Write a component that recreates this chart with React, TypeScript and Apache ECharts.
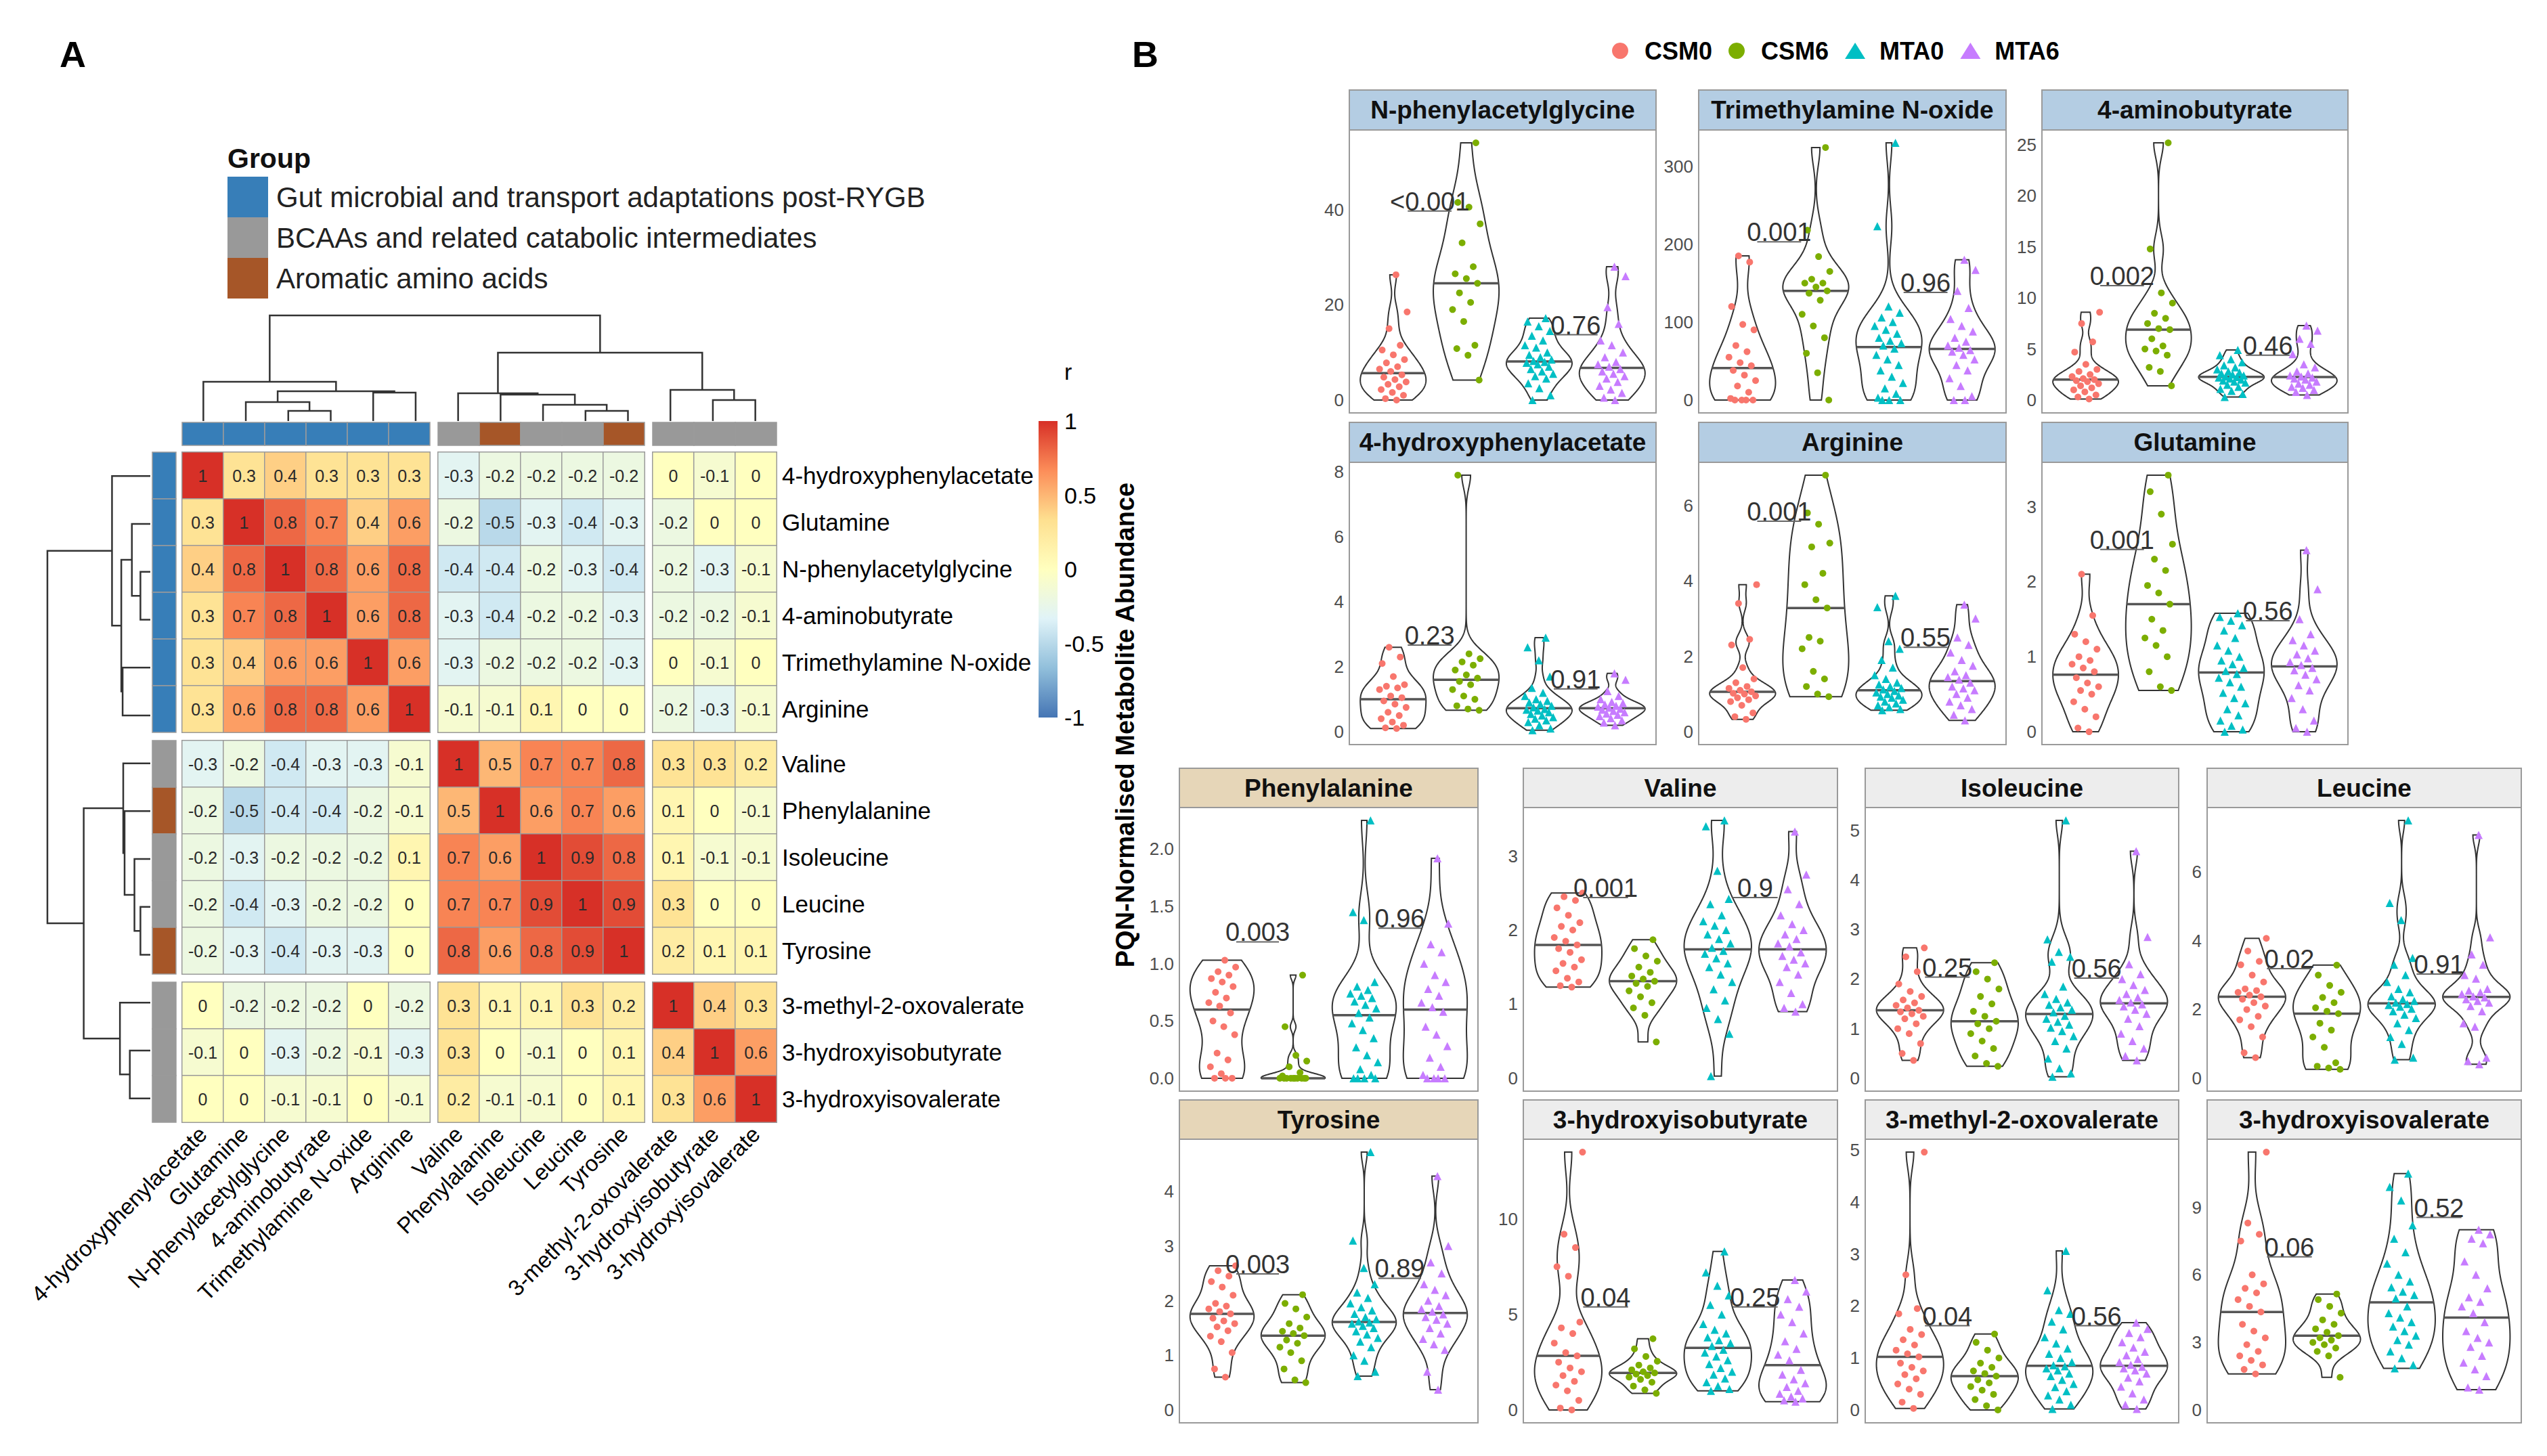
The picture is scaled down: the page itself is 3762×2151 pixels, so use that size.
import React, { useEffect, useRef } from "react";
import * as echarts from "echarts";

const FONT = "'Liberation Sans', Arial, Helvetica, sans-serif";

// ================= Panel A data =================
const metabolites = [
  "4-hydroxyphenylacetate", "Glutamine", "N-phenylacetylglycine", "4-aminobutyrate",
  "Trimethylamine N-oxide", "Arginine", "Valine", "Phenylalanine", "Isoleucine",
  "Leucine", "Tyrosine", "3-methyl-2-oxovalerate", "3-hydroxyisobutyrate", "3-hydroxyisovalerate",
];
const metaboliteGroup = [0, 0, 0, 0, 0, 0, 1, 2, 1, 1, 2, 1, 1, 1];
const groupNames = [
  "Gut microbial and transport adaptations post-RYGB",
  "BCAAs and related catabolic intermediates",
  "Aromatic amino acids",
];
const groupColors = ["#377EB8", "#999999", "#A65628"];
const blockSizes = [6, 5, 3];
const corrMatrix = [
  [1, 0.3, 0.4, 0.3, 0.3, 0.3, -0.3, -0.2, -0.2, -0.2, -0.2, 0, -0.1, 0],
  [0.3, 1, 0.8, 0.7, 0.4, 0.6, -0.2, -0.5, -0.3, -0.4, -0.3, -0.2, 0, 0],
  [0.4, 0.8, 1, 0.8, 0.6, 0.8, -0.4, -0.4, -0.2, -0.3, -0.4, -0.2, -0.3, -0.1],
  [0.3, 0.7, 0.8, 1, 0.6, 0.8, -0.3, -0.4, -0.2, -0.2, -0.3, -0.2, -0.2, -0.1],
  [0.3, 0.4, 0.6, 0.6, 1, 0.6, -0.3, -0.2, -0.2, -0.2, -0.3, 0, -0.1, 0],
  [0.3, 0.6, 0.8, 0.8, 0.6, 1, -0.1, -0.1, 0.1, 0, 0, -0.2, -0.3, -0.1],
  [-0.3, -0.2, -0.4, -0.3, -0.3, -0.1, 1, 0.5, 0.7, 0.7, 0.8, 0.3, 0.3, 0.2],
  [-0.2, -0.5, -0.4, -0.4, -0.2, -0.1, 0.5, 1, 0.6, 0.7, 0.6, 0.1, 0, -0.1],
  [-0.2, -0.3, -0.2, -0.2, -0.2, 0.1, 0.7, 0.6, 1, 0.9, 0.8, 0.1, -0.1, -0.1],
  [-0.2, -0.4, -0.3, -0.2, -0.2, 0, 0.7, 0.7, 0.9, 1, 0.9, 0.3, 0, 0],
  [-0.2, -0.3, -0.4, -0.3, -0.3, 0, 0.8, 0.6, 0.8, 0.9, 1, 0.2, 0.1, 0.1],
  [0, -0.2, -0.2, -0.2, 0, -0.2, 0.3, 0.1, 0.1, 0.3, 0.2, 1, 0.4, 0.3],
  [-0.1, 0, -0.3, -0.2, -0.1, -0.3, 0.3, 0, -0.1, 0, 0.1, 0.4, 1, 0.6],
  [0, 0, -0.1, -0.1, 0, -0.1, 0.2, -0.1, -0.1, 0, 0.1, 0.3, 0.6, 1],
];
// hclust-style merges: negative = leaf (-(index+1)), positive = earlier merge (1-based); third = height
const dendroMerges = [
  [-3, -4, 0.96], [-10, -11, 0.96], [-2, 1, 1.79], [-9, 2, 1.54], [-13, -14, 1.99],
  [-8, 4, 2.5], [-7, 6, 2.63], [-5, -6, 2.69], [3, 8, 2.82], [-12, 5, 2.95],
  [-1, 9, 3.72], [7, 10, 6.47], [11, 12, 10],
];
const colorbarTicks = [-1, -0.5, 0, 0.5, 1];
const heatPalette = ["#4575B4", "#91BFDB", "#E0F3F8", "#FFFFBF", "#FEE090", "#FC8D59", "#D73027"];

// ================= Panel B data =================
const groupsB = ["CSM0", "CSM6", "MTA0", "MTA6"];

const npagValues = [
  [0, 0.3, 1, 1.6, 2.2, 2.8, 3.3, 3.8, 4.3, 4.8, 5.3, 6, 6.5, 7, 7.8, 8.5, 9.5, 10.5, 11.5, 15, 18.5, 26.3],
  [4.2, 9.4, 10.8, 11.5, 16.5, 19, 20.5, 22.5, 24.5, 25.5, 26.5, 28, 33, 37, 40.5, 41.5, 54],
  [0, 1, 2.5, 3.5, 4.5, 5, 5.5, 6, 6.5, 7, 7.5, 7.8, 8, 8.2, 8.5, 9, 9.5, 10, 11, 11.5, 12.5, 13.5, 14.5, 15.5, 16.5, 17.2],
  [0, 0.5, 1.5, 2.2, 3, 3.8, 4.5, 5, 5.5, 6, 6.5, 7, 7.5, 8, 9, 10, 11.5, 12.5, 16, 19.5, 26, 28],
];
const npagTicks = [0, 20, 40];
const npagP = [["<0.001", 39.7], ["0.76", 13.7]];

const tmaoValues = [
  [0, 0, 0, 0, 2, 10, 18, 25, 32, 38, 44, 48, 55, 62, 70, 90, 97, 120, 177, 185],
  [0, 35, 60, 80, 95, 110, 128, 137, 140, 145, 150, 150, 155, 165, 184, 218, 324],
  [0, 0, 0, 3, 8, 15, 22, 30, 38, 45, 52, 58, 66, 70, 73, 76, 80, 85, 90, 95, 100, 106, 112, 120, 223, 330],
  [0, 0, 5, 18, 28, 38, 45, 52, 58, 62, 64, 67, 70, 75, 80, 88, 95, 104, 118, 140, 167, 180],
];
const tmaoTicks = [0, 100, 200, 300];
const tmaoP = [["0.001", 203], ["0.96", 138]];

const gabaValues = [
  [0.1, 0.3, 0.5, 0.8, 1.0, 1.2, 1.4, 1.6, 1.8, 1.9, 2.0, 2.1, 2.3, 2.5, 2.8, 3.0, 3.5, 4.7, 5.7, 7.5, 8.6],
  [1.4, 2.8, 3.2, 4.4, 4.8, 5.0, 5.3, 6.0, 6.9, 7.0, 7.5, 8.0, 8.5, 9.5, 10.5, 14.8, 25.2],
  [0.3, 0.6, 0.9, 1.1, 1.3, 1.5, 1.7, 1.8, 1.9, 2.0, 2.1, 2.2, 2.25, 2.3, 2.4, 2.5, 2.6, 2.7, 2.8, 3.0, 3.2, 3.4, 3.7, 4.0, 4.4, 4.9],
  [0.5, 0.8, 1.0, 1.2, 1.3, 1.5, 1.6, 1.8, 2.0, 2.1, 2.2, 2.3, 2.4, 2.6, 2.8, 3.2, 3.5, 4.5, 5.5, 6.0, 6.8, 7.3],
];
const gabaTicks = [0, 5, 10, 15, 20, 25];
const gabaP = [["0.002", 11.2], ["0.46", 4.4]];

const hpaValues = [
  [0.1, 0.12, 0.2, 0.3, 0.4, 0.5, 0.6, 0.75, 0.85, 0.95, 1.05, 1.1, 1.3, 1.35, 1.4, 1.45, 1.7, 2.1, 2.3, 2.6],
  [0.66, 0.7, 0.8, 1.0, 1.1, 1.3, 1.45, 1.55, 1.65, 1.75, 1.9, 2.05, 2.15, 2.25, 2.4, 7.9],
  [0.05, 0.1, 0.2, 0.3, 0.35, 0.4, 0.45, 0.5, 0.55, 0.6, 0.65, 0.68, 0.7, 0.75, 0.8, 0.85, 0.9, 0.95, 1.0, 1.1, 1.2, 1.35, 1.7, 2.2, 2.6, 2.9],
  [0.2, 0.28, 0.35, 0.42, 0.48, 0.52, 0.56, 0.6, 0.64, 0.68, 0.71, 0.74, 0.77, 0.8, 0.84, 0.88, 0.92, 1.0, 1.1, 1.25, 1.6, 1.8],
];
const hpaTicks = [0, 2, 4, 6, 8];
const hpaP = [["0.23", 2.67], ["0.91", 1.32]];

const argValues = [
  [0.33, 0.4, 0.5, 0.7, 0.8, 0.85, 0.9, 0.95, 1.0, 1.02, 1.06, 1.1, 1.15, 1.2, 1.3, 1.4, 1.7, 2.3, 2.45, 3.4, 3.9],
  [0.93, 1.0, 1.2, 1.4, 1.6, 2.2, 2.4, 2.5, 3.28, 3.5, 3.9, 4.2, 4.9, 5.0, 5.5, 5.8, 6.8],
  [0.57, 0.6, 0.65, 0.7, 0.75, 0.8, 0.85, 0.9, 0.93, 0.96, 1.0, 1.04, 1.08, 1.12, 1.16, 1.2, 1.25, 1.3, 1.4, 1.5, 1.7, 1.9, 2.2, 2.4, 3.3, 3.6],
  [0.3, 0.45, 0.6, 0.7, 0.8, 0.9, 1.0, 1.1, 1.15, 1.2, 1.3, 1.38, 1.45, 1.5, 1.6, 1.75, 1.9, 2.1, 2.3, 2.5, 3.0, 3.37],
];
const argTicks = [0, 2, 4, 6];
const argP = [["0.001", 5.58], ["0.55", 2.24]];

const glnValues = [
  [0.0, 0.05, 0.2, 0.3, 0.4, 0.5, 0.55, 0.6, 0.65, 0.72, 0.8, 0.85, 0.9, 0.95, 1.0, 1.1, 1.2, 1.3, 1.55, 2.1],
  [0.55, 0.6, 0.8, 1.0, 1.15, 1.25, 1.35, 1.5, 1.7, 1.85, 1.95, 2.15, 2.3, 2.5, 2.9, 3.2, 3.42],
  [0.0, 0.03, 0.08, 0.15, 0.22, 0.3, 0.38, 0.45, 0.52, 0.6, 0.66, 0.72, 0.77, 0.81, 0.85, 0.9, 0.95, 1.0, 1.08, 1.15, 1.25, 1.35, 1.42, 1.48, 1.53, 1.58],
  [0.0, 0.05, 0.15, 0.3, 0.45, 0.55, 0.62, 0.7, 0.76, 0.82, 0.85, 0.89, 0.93, 0.98, 1.03, 1.08, 1.15, 1.22, 1.3, 1.5, 1.9, 2.42],
];
const glnTicks = [0, 1, 2, 3];
const glnP = [["0.001", 2.43], ["0.56", 1.48]];

const pheValues = [
  [0, 0, 0, 0.04, 0.1, 0.16, 0.22, 0.38, 0.45, 0.5, 0.57, 0.63, 0.66, 0.7, 0.75, 0.8, 0.84, 0.87, 0.9, 0.93, 0.97, 1.03],
  [0, 0, 0, 0, 0, 0, 0, 0, 0, 0, 0.02, 0.05, 0.1, 0.15, 0.2, 0.45, 0.9],
  [0, 0, 0, 0, 0.03, 0.08, 0.14, 0.2, 0.27, 0.35, 0.42, 0.48, 0.53, 0.57, 0.61, 0.64, 0.67, 0.7, 0.72, 0.74, 0.77, 0.8, 0.84, 1.38, 1.45, 2.25],
  [0, 0, 0, 0, 0.03, 0.1, 0.18, 0.28, 0.38, 0.45, 0.58, 0.62, 0.66, 0.72, 0.78, 0.84, 0.9, 1.0, 1.1, 1.17, 1.35, 1.92],
];
const pheTicks = [0, 0.5, 1, 1.5, 2];
const pheP = [["0.003", 1.19], ["0.96", 1.31]];

const valValues = [
  [1.23, 1.25, 1.3, 1.35, 1.45, 1.5, 1.55, 1.6, 1.7, 1.75, 1.8, 1.85, 1.9, 2.0, 2.05, 2.1, 2.2, 2.3, 2.4, 2.45, 2.5],
  [0.49, 0.85, 0.95, 1.02, 1.1, 1.18, 1.24, 1.28, 1.31, 1.34, 1.38, 1.43, 1.5, 1.58, 1.65, 1.75, 1.87],
  [0.03, 0.6, 0.8, 0.95, 1.05, 1.2, 1.3, 1.4, 1.5, 1.55, 1.62, 1.68, 1.72, 1.76, 1.82, 1.88, 1.94, 2.0, 2.06, 2.12, 2.2, 2.35, 2.42, 2.8, 3.4, 3.48],
  [0.9, 0.95, 1.0, 1.15, 1.3, 1.4, 1.5, 1.55, 1.6, 1.65, 1.7, 1.78, 1.82, 1.88, 1.94, 2.0, 2.08, 2.2, 2.35, 2.55, 2.75, 3.33],
];
const valTicks = [0, 1, 2, 3];
const valP = [["0.001", 2.44], ["0.9", 2.44]];

const ileValues = [
  [0.36, 0.5, 0.7, 0.9, 1.0, 1.1, 1.2, 1.25, 1.3, 1.34, 1.37, 1.42, 1.47, 1.52, 1.58, 1.65, 1.75, 1.9, 2.15, 2.45, 2.63],
  [0.24, 0.3, 0.45, 0.6, 0.75, 0.9, 1.0, 1.1, 1.15, 1.25, 1.35, 1.5, 1.65, 1.8, 2.0, 2.15, 2.33],
  [0.03, 0.1, 0.2, 0.4, 0.6, 0.75, 0.85, 0.95, 1.02, 1.08, 1.14, 1.2, 1.26, 1.33, 1.38, 1.43, 1.48, 1.53, 1.6, 1.7, 1.85, 2.35, 2.45, 2.55, 2.8, 5.2],
  [0.36, 0.45, 0.6, 0.75, 0.9, 1.05, 1.2, 1.3, 1.38, 1.45, 1.49, 1.53, 1.58, 1.63, 1.7, 1.78, 1.88, 2.0, 2.1, 2.3, 2.85, 4.58],
];
const ileTicks = [0, 1, 2, 3, 4, 5];
const ileP = [["0.25", 2.04], ["0.56", 2.02]];

const leuValues = [
  [0.6, 0.74, 1.2, 1.5, 1.7, 1.8, 2.0, 2.1, 2.2, 2.3, 2.37, 2.42, 2.5, 2.55, 2.6, 2.8, 3.0, 3.3, 3.4, 3.7, 4.07],
  [0.26, 0.3, 0.35, 0.45, 0.9, 1.2, 1.4, 1.6, 1.88, 1.95, 2.05, 2.2, 2.35, 2.5, 2.7, 3.0, 3.29],
  [0.54, 0.6, 1.0, 1.2, 1.4, 1.6, 1.75, 1.85, 1.95, 2.02, 2.08, 2.13, 2.16, 2.2, 2.25, 2.3, 2.38, 2.5, 2.6, 2.8, 3.0, 3.3, 3.5, 4.6, 5.1, 7.5],
  [0.41, 0.5, 0.6, 1.5, 1.6, 1.95, 2.1, 2.2, 2.25, 2.3, 2.35, 2.38, 2.45, 2.5, 2.55, 2.6, 2.9, 3.0, 3.3, 3.6, 4.1, 7.08],
];
const leuTicks = [0, 2, 4, 6];
const leuP = [["0.02", 3.19], ["0.91", 3.03]];

const tyrValues = [
  [0.6, 0.75, 1.05, 1.25, 1.35, 1.45, 1.52, 1.58, 1.63, 1.68, 1.76, 1.8, 1.85, 1.9, 1.95, 2.1, 2.25, 2.35, 2.45, 2.55, 2.64],
  [0.5, 0.55, 0.75, 0.9, 1.05, 1.15, 1.22, 1.28, 1.36, 1.4, 1.44, 1.5, 1.58, 1.7, 1.85, 1.95, 2.11],
  [0.62, 0.7, 0.9, 1.0, 1.15, 1.25, 1.32, 1.38, 1.44, 1.5, 1.54, 1.58, 1.6, 1.62, 1.66, 1.7, 1.76, 1.82, 1.88, 1.95, 2.05, 2.15, 2.3, 2.6, 3.1, 4.72],
  [0.37, 0.7, 1.1, 1.2, 1.3, 1.4, 1.5, 1.58, 1.65, 1.7, 1.75, 1.8, 1.85, 1.9, 2.0, 2.1, 2.2, 2.3, 2.5, 2.7, 3.0, 4.28],
];
const tyrTicks = [0, 1, 2, 3, 4];
const tyrP = [["0.003", 2.49], ["0.89", 2.41]];

const hibValues = [
  [0.0, 0.1, 0.5, 1.0, 1.3, 1.5, 1.8, 2.0, 2.2, 2.5, 2.83, 3.0, 3.5, 4.0, 4.3, 4.6, 7.0, 7.5, 8.5, 9.2, 13.5],
  [0.87, 1.05, 1.25, 1.45, 1.6, 1.72, 1.8, 1.88, 1.94, 2.0, 2.1, 2.2, 2.35, 2.55, 2.8, 3.2, 3.73],
  [1.0, 1.1, 1.25, 1.45, 1.65, 1.85, 2.0, 2.2, 2.4, 2.6, 2.8, 3.0, 3.15, 3.35, 3.5, 3.65, 3.8, 4.0, 4.2, 4.5, 5.0, 5.5, 6.0, 6.5, 7.2, 8.3],
  [0.43, 0.5, 0.6, 0.7, 0.85, 1.0, 1.2, 1.4, 1.6, 1.85, 2.1, 2.6, 2.9, 3.2, 3.6, 4.0, 4.6, 5.0, 5.4, 5.8, 6.2, 6.8],
];
const hibTicks = [0, 5, 10];
const hibP = [["0.04", 5.39], ["0.25", 5.39]];

const movValues = [
  [0.03, 0.15, 0.3, 0.4, 0.5, 0.6, 0.68, 0.75, 0.82, 0.9, 1.02, 1.08, 1.15, 1.25, 1.35, 1.45, 1.55, 1.85, 1.95, 2.6, 4.96],
  [0.0, 0.08, 0.2, 0.3, 0.38, 0.45, 0.52, 0.58, 0.65, 0.7, 0.75, 0.82, 0.9, 1.0, 1.15, 1.3, 1.46],
  [0.02, 0.1, 0.2, 0.28, 0.36, 0.44, 0.5, 0.58, 0.65, 0.7, 0.76, 0.8, 0.84, 0.86, 0.92, 1.0, 1.08, 1.18, 1.28, 1.4, 1.55, 1.7, 1.85, 1.92, 2.3, 3.06],
  [0.02, 0.1, 0.2, 0.32, 0.45, 0.55, 0.62, 0.7, 0.76, 0.8, 0.83, 0.87, 0.92, 0.98, 1.05, 1.12, 1.2, 1.3, 1.4, 1.48, 1.56, 1.68],
];
const movTicks = [0, 1, 2, 3, 4, 5];
const movP = [["0.04", 1.62], ["0.56", 1.62]];

const hivValues = [
  [1.6, 1.8, 2.0, 2.2, 2.4, 2.6, 2.9, 3.2, 3.5, 3.8, 4.35, 4.6, 4.9, 5.2, 5.4, 5.6, 6.0, 7.5, 7.8, 8.3, 11.45],
  [1.45, 2.4, 2.6, 2.75, 2.9, 3.0, 3.1, 3.2, 3.3, 3.45, 3.6, 3.8, 4.0, 4.3, 4.6, 4.9, 5.15],
  [1.85, 2.0, 2.3, 2.6, 2.9, 3.1, 3.3, 3.5, 3.7, 3.9, 4.1, 4.3, 4.6, 4.95, 5.1, 5.25, 5.45, 5.7, 6.0, 6.5, 7.0, 7.6, 8.2, 9.3, 9.9, 10.5],
  [0.9, 1.0, 1.5, 1.8, 2.1, 2.4, 2.8, 3.0, 3.2, 3.5, 3.9, 4.3, 4.6, 4.8, 5.0, 5.4, 6.0, 6.6, 7.4, 7.6, 7.8, 8.0],
];
const hivTicks = [0, 3, 6, 9];
const hivP = [["0.06", 6.8], ["0.52", 8.55]];

const panelsB: any[] = [
  { title: "N-phenylacetylglycine", values: npagValues, ticks: npagTicks, pv: npagP },
  { title: "Trimethylamine N-oxide", values: tmaoValues, ticks: tmaoTicks, pv: tmaoP },
  { title: "4-aminobutyrate", values: gabaValues, ticks: gabaTicks, pv: gabaP },
  { title: "4-hydroxyphenylacetate", values: hpaValues, ticks: hpaTicks, pv: hpaP },
  { title: "Arginine", values: argValues, ticks: argTicks, pv: argP },
  { title: "Glutamine", values: glnValues, ticks: glnTicks, pv: glnP },
  { title: "Phenylalanine", values: pheValues, ticks: pheTicks, pv: pheP, decimals: true },
  { title: "Valine", values: valValues, ticks: valTicks, pv: valP },
  { title: "Isoleucine", values: ileValues, ticks: ileTicks, pv: ileP },
  { title: "Leucine", values: leuValues, ticks: leuTicks, pv: leuP },
  { title: "Tyrosine", values: tyrValues, ticks: tyrTicks, pv: tyrP },
  { title: "3-hydroxyisobutyrate", values: hibValues, ticks: hibTicks, pv: hibP },
  { title: "3-methyl-2-oxovalerate", values: movValues, ticks: movTicks, pv: movP },
  { title: "3-hydroxyisovalerate", values: hivValues, ticks: hivTicks, pv: hivP },
];

// ================= styles / layout =================
const groupColorsB = ["#F8766D", "#7CAE00", "#00BFC4", "#C77CFF"];
const groupSymbols = ["circle", "circle", "triangle", "triangle"];
const stripFills = ["#B4CDE3", "#EDEDED", "#E6D6B8"];
const jitter = (i: number) => ((((i + 1) * 0.6180339887) % 1) - 0.5) * 0.4;

function violinShape(vals: number[]) {
  const s = [...vals].sort((a, b) => a - b);
  const n = s.length;
  const mean = s.reduce((a, b) => a + b, 0) / n;
  const sd = Math.sqrt(s.reduce((a, b) => a + (b - mean) * (b - mean), 0) / (n - 1));
  const q = (p: number) => {
    const h = (n - 1) * p;
    const i = Math.floor(h);
    const j = Math.min(i + 1, n - 1);
    return s[i] + (h - i) * (s[j] - s[i]);
  };
  let lo = Math.min(sd, (q(0.75) - q(0.25)) / 1.34);
  if (!(lo > 0)) lo = sd > 0 ? sd : Math.abs(s[0]) || 1;
  const bw = 0.9 * lo * Math.pow(n, -0.2);
  const dens = (y: number) => {
    let d = 0;
    for (const x of s) {
      const u = (y - x) / bw;
      d += Math.exp(-0.5 * u * u);
    }
    return d / (n * bw * Math.sqrt(2 * Math.PI));
  };
  const steps = 240;
  const ys: number[] = [];
  const ds: number[] = [];
  for (let k = 0; k < steps; k++) {
    const y = s[0] + ((s[n - 1] - s[0]) * k) / (steps - 1);
    ys.push(y);
    ds.push(dens(y));
  }
  const mx = Math.max(...ds);
  const median = q(0.5);
  return { ys, w: ds.map((d) => d / mx), median, wMed: dens(median) / mx };
}

function dendroSegments(merges: number[][]) {
  const pos: number[] = [];
  const ht: number[] = [];
  const items: number[][] = [];
  merges.forEach(([a, b, h], k) => {
    const pa = a < 0 ? -a - 1 + 0.5 : pos[a - 1];
    const ha = a < 0 ? 0 : ht[a - 1];
    const pb = b < 0 ? -b - 1 + 0.5 : pos[b - 1];
    const hb = b < 0 ? 0 : ht[b - 1];
    pos[k] = (pa + pb) / 2;
    ht[k] = h;
    items.push([pa, pb, ha, hb, h]);
  });
  return items;
}

function buildOption() {
  const grid: any[] = [];
  const xAxis: any[] = [];
  const yAxis: any[] = [];
  const series: any[] = [];
  const graphic: any[] = [];
  const hidden = { show: false };
  const addGrid = (g: any, xa: any, ya: any) => {
    grid.push(g);
    const i = grid.length - 1;
    xAxis.push({ gridIndex: i, ...xa });
    yAxis.push({ gridIndex: i, ...ya });
    return i;
  };

  // ---------- Heatmap blocks ----------
  const cellW = 61, cellH = 69, gap = 12, hmLeft = 269, hmTop = 668;
  const blockStart = [0, 6, 11];
  const colX = blockStart.map((s, b) => hmLeft + s * cellW + b * gap);
  const rowY = blockStart.map((s, b) => hmTop + s * cellH + b * gap);
  const hmRight = colX[2] + blockSizes[2] * cellW;
  const hmBottom = rowY[2] + blockSizes[2] * cellH;

  for (let rb = 0; rb < 3; rb++) {
    for (let cb = 0; cb < 3; cb++) {
      const cs = blockStart[cb], rs = blockStart[rb];
      const colNames = metabolites.slice(cs, cs + blockSizes[cb]);
      const rowNames = metabolites.slice(rs, rs + blockSizes[rb]);
      const gi = addGrid(
        { left: colX[cb], top: rowY[rb], width: blockSizes[cb] * cellW, height: blockSizes[rb] * cellH },
        {
          type: "category", data: colNames, axisLine: hidden, axisTick: hidden, splitLine: hidden,
          axisLabel: { show: rb === 2, interval: 0, rotate: 45, margin: 12, fontSize: 33, color: "#000", fontFamily: FONT },
        },
        {
          type: "category", data: rowNames, inverse: true, position: "right", axisLine: hidden, axisTick: hidden, splitLine: hidden,
          axisLabel: { show: cb === 2, interval: 0, margin: 8, fontSize: 35, color: "#000", fontFamily: FONT },
        }
      );
      const data: any[] = [];
      rowNames.forEach((_r, j) => colNames.forEach((_c, i) => data.push([i, j, corrMatrix[rs + j][cs + i]])));
      series.push({
        type: "heatmap", xAxisIndex: gi, yAxisIndex: gi, data, silent: true,
        label: { show: true, formatter: (p: any) => String(p.value[2]), fontSize: 25, color: "#2a2a2a", fontFamily: FONT },
        itemStyle: { borderColor: "#9a9a9a", borderWidth: 1.5 },
        emphasis: { disabled: true },
      });
    }
  }

  const cellRender = (_params: any, api: any) => {
    const c = api.coord([api.value(0), api.value(1)]);
    const s = api.size([1, 1]);
    return {
      type: "rect",
      shape: { x: c[0] - s[0] / 2, y: c[1] - s[1] / 2, width: s[0], height: s[1] },
      style: { fill: groupColors[api.value(2)], stroke: "#9a9a9a", lineWidth: 1.5 },
    };
  };

  // ---------- Column annotation ----------
  for (let cb = 0; cb < 3; cb++) {
    const cs = blockStart[cb];
    const names = metabolites.slice(cs, cs + blockSizes[cb]);
    const gi = addGrid(
      { left: colX[cb], top: 624, width: blockSizes[cb] * cellW, height: 34 },
      { type: "category", data: names, show: false },
      { type: "category", data: ["Group"], show: false }
    );
    series.push({
      type: "custom", xAxisIndex: gi, yAxisIndex: gi, silent: true, renderItem: cellRender,
      data: names.map((_n, i) => [i, 0, metaboliteGroup[cs + i]]),
    });
  }
  // ---------- Row annotation ----------
  for (let rb = 0; rb < 3; rb++) {
    const rs = blockStart[rb];
    const names = metabolites.slice(rs, rs + blockSizes[rb]);
    const gi = addGrid(
      { left: 225, top: rowY[rb], width: 35, height: blockSizes[rb] * cellH },
      { type: "category", data: ["Group"], show: false },
      { type: "category", data: names, inverse: true, show: false }
    );
    series.push({
      type: "custom", xAxisIndex: gi, yAxisIndex: gi, silent: true, renderItem: cellRender,
      data: names.map((_n, j) => [0, j, metaboliteGroup[rs + j]]),
    });
  }

  // ---------- Dendrograms ----------
  const segs = dendroSegments(dendroMerges);
  const dStyle = { fill: "none", stroke: "#333", lineWidth: 2.5 };
  const gCol = addGrid(
    { left: hmLeft, top: 466, width: hmRight - hmLeft, height: 156 },
    { type: "value", min: 0, max: 14, show: false },
    { type: "value", min: 0, max: 10, show: false }
  );
  series.push({
    type: "custom", xAxisIndex: gCol, yAxisIndex: gCol, silent: true, data: segs,
    renderItem: (_p: any, api: any) => {
      const xa = api.value(0), xb = api.value(1), ha = api.value(2), hb = api.value(3), h = api.value(4);
      const pts = [[xa, ha], [xa, h], [xb, h], [xb, hb]].map((p) => api.coord(p));
      return { type: "polyline", shape: { points: pts }, style: dStyle };
    },
  });
  const gRow = addGrid(
    { left: 70, top: hmTop, width: 152, height: hmBottom - hmTop },
    { type: "value", min: 0, max: 10, inverse: true, show: false },
    { type: "value", min: 0, max: 14, inverse: true, show: false }
  );
  series.push({
    type: "custom", xAxisIndex: gRow, yAxisIndex: gRow, silent: true, data: segs,
    renderItem: (_p: any, api: any) => {
      const xa = api.value(0), xb = api.value(1), ha = api.value(2), hb = api.value(3), h = api.value(4);
      const pts = [[ha, xa], [h, xa], [h, xb], [hb, xb]].map((p) => api.coord(p));
      return { type: "polyline", shape: { points: pts }, style: dStyle };
    },
  });

  // ---------- Colorbar ----------
  const gBar = addGrid(
    { left: 1534, top: 622, width: 28, height: 438 },
    { type: "value", min: 0, max: 1, show: false },
    {
      type: "value", min: -1, max: 1, position: "right", axisLine: hidden, axisTick: hidden, splitLine: hidden,
      axisLabel: { customValues: colorbarTicks, formatter: (v: number) => String(v), fontSize: 34, color: "#000", margin: 10, fontFamily: FONT },
    }
  );
  series.push({
    type: "custom", xAxisIndex: gBar, yAxisIndex: gBar, silent: true, data: [[0, 1]],
    renderItem: (_p: any, api: any) => {
      const p1 = api.coord([0, 1]);
      const p2 = api.coord([1, -1]);
      const stops = heatPalette.map((_c, k) => ({ offset: k / (heatPalette.length - 1), color: heatPalette[heatPalette.length - 1 - k] }));
      return {
        type: "rect",
        shape: { x: p1[0], y: p1[1], width: p2[0] - p1[0], height: p2[1] - p1[1] },
        style: { fill: new echarts.graphic.LinearGradient(0, 0, 0, 1, stops) },
      };
    },
  });

  // ---------- Panel B ----------
  const topCols = [[1993, 453], [2509, 454], [3016, 452]];
  const botCols = [[1742, 441], [2250, 464], [2755, 463], [3260, 464]];
  const rowsB = [[133, 192, 610], [624, 683, 1100], [1135, 1193, 1612], [1625, 1683, 2102]];

  panelsB.forEach((p, k) => {
    const r = k < 3 ? 0 : k < 6 ? 1 : k < 10 ? 2 : 3;
    const c = k < 3 ? k : k < 6 ? k - 3 : k < 10 ? k - 6 : k - 10;
    const [x, w] = r < 2 ? topCols[c] : botCols[c];
    const [st, bt, bb] = rowsB[r];
    const all: number[] = p.values.flat();
    const lo = Math.min(0, ...all);
    const hi = Math.max(...all);
    const pad = (hi - lo) * 0.05;
    const gi = addGrid(
      { left: x, top: bt, width: w, height: bb - bt, show: true, borderColor: "#9a9a9a", borderWidth: 2, backgroundColor: "#fff" },
      { type: "value", min: 0.4, max: 4.6, show: false },
      {
        type: "value", min: lo - pad, max: hi + pad, axisLine: hidden, axisTick: hidden, splitLine: hidden,
        axisLabel: {
          customValues: p.ticks,
          formatter: p.decimals ? (v: number) => v.toFixed(1) : (v: number) => String(v),
          fontSize: 26, color: "#4d4d4d", margin: 8, fontFamily: FONT,
        },
      }
    );
    const shapes = p.values.map(violinShape);
    series.push({
      type: "custom", xAxisIndex: gi, yAxisIndex: gi, z: 2, silent: true,
      data: shapes.map((s: any, g: number) => [g + 1, s.median]),
      renderItem: (params: any, api: any) => {
        const g = params.dataIndex;
        const s = shapes[g];
        const cx = g + 1;
        const right = s.ys.map((y: number, j: number) => api.coord([cx + 0.45 * s.w[j], y]));
        const left = s.ys.map((y: number, j: number) => api.coord([cx - 0.45 * s.w[j], y])).reverse();
        const m1 = api.coord([cx - 0.45 * s.wMed, s.median]);
        const m2 = api.coord([cx + 0.45 * s.wMed, s.median]);
        return {
          type: "group",
          children: [
            { type: "polygon", shape: { points: right.concat(left) }, style: { fill: "#fff", stroke: "#333", lineWidth: 2 } },
            { type: "line", shape: { x1: m1[0], y1: m1[1], x2: m2[0], y2: m2[1] }, style: { stroke: "#555", lineWidth: 3.5 } },
          ],
        };
      },
    });
    p.values.forEach((vals: number[], g: number) => {
      series.push({
        type: "scatter", name: groupsB[g], xAxisIndex: gi, yAxisIndex: gi, z: 3, silent: true,
        symbol: groupSymbols[g], symbolSize: g < 2 ? 10 : 12,
        itemStyle: { color: groupColorsB[g], opacity: 1 },
        data: vals.map((v, i) => [g + 1 + jitter(i + g * 7), v]),
      });
    });
    series.push({
      type: "custom", xAxisIndex: gi, yAxisIndex: gi, z: 4, silent: true,
      data: p.pv.map((d: any, i: number) => [i === 0 ? 1.5 : 3.5, d[1]]),
      renderItem: (params: any, api: any) => {
        const px = api.value(0), py = api.value(1);
        const a = api.coord([px - 0.3, py]);
        const b = api.coord([px + 0.3, py]);
        const cc = api.coord([px, py]);
        return {
          type: "group",
          children: [
            { type: "line", shape: { x1: a[0], y1: a[1], x2: b[0], y2: b[1] }, style: { stroke: "#666", lineWidth: 2 } },
            {
              type: "text", x: cc[0], y: cc[1] + 5,
              style: { text: p.pv[params.dataIndex][0], fontSize: 38, fontFamily: FONT, fill: "#333", align: "center", verticalAlign: "bottom" },
            },
          ],
        };
      },
    });
    const grp = metaboliteGroup[metabolites.indexOf(p.title)];
    graphic.push({
      type: "rect", z: 10, shape: { x, y: st, width: w, height: bt - st },
      style: { fill: stripFills[grp], stroke: "#9a9a9a", lineWidth: 2 },
    });
    graphic.push({
      type: "text", z: 11, x: x + w / 2, y: (st + bt) / 2,
      style: { text: p.title, fontSize: 37, fontWeight: "bold", fontFamily: FONT, fill: "#111", align: "center", verticalAlign: "middle" },
    });
  });

  // ---------- Decorations ----------
  graphic.push({ type: "text", x: 88, y: 80, style: { text: "A", fontSize: 54, fontWeight: "bold", fontFamily: FONT, fill: "#000", verticalAlign: "middle" } });
  graphic.push({ type: "text", x: 1672, y: 80, style: { text: "B", fontSize: 54, fontWeight: "bold", fontFamily: FONT, fill: "#000", verticalAlign: "middle" } });
  graphic.push({ type: "text", x: 336, y: 234, style: { text: "Group", fontSize: 41, fontWeight: "bold", fontFamily: FONT, fill: "#111", verticalAlign: "middle" } });
  groupNames.forEach((nm, i) => {
    graphic.push({ type: "rect", shape: { x: 336, y: 261 + 60 * i, width: 60, height: 60 }, style: { fill: groupColors[i] } });
    graphic.push({ type: "text", x: 408, y: 291 + 60 * i, style: { text: nm, fontSize: 42, fontFamily: FONT, fill: "#222", verticalAlign: "middle" } });
  });
  graphic.push({ type: "text", x: 1572, y: 549, style: { text: "r", fontSize: 34, fontFamily: FONT, fill: "#000", verticalAlign: "middle" } });
  graphic.push({
    type: "text", x: 1662, y: 1071, rotation: Math.PI / 2,
    style: { text: "PQN-Normalised Metabolite Abundance", fontSize: 38, fontWeight: "bold", fontFamily: FONT, fill: "#000", align: "center", verticalAlign: "middle" },
  });

  return {
    animation: false,
    backgroundColor: "#fff",
    textStyle: { fontFamily: FONT },
    legend: {
      left: 2376, top: 52, itemWidth: 30, itemHeight: 24, itemGap: 24, selectedMode: false,
      data: groupsB.map((n, g) => ({ name: n, icon: groupSymbols[g] })),
      textStyle: { fontSize: 36, fontWeight: "bold", color: "#000", fontFamily: FONT, padding: [0, 0, 0, 16] },
    },
    visualMap: {
      type: "continuous", min: -1, max: 1, show: false, dimension: 2,
      seriesIndex: [0, 1, 2, 3, 4, 5, 6, 7, 8],
      inRange: { color: heatPalette },
    },
    grid, xAxis, yAxis, series, graphic,
  };
}

export default function App() {
  const ref = useRef<HTMLDivElement>(null);
  useEffect(() => {
    document.body.style.margin = "0";
    const chart = echarts.init(ref.current as HTMLDivElement, null, { renderer: "svg" });
    chart.setOption(buildOption() as any);
    return () => chart.dispose();
  }, []);
  return (
    <div
      ref={ref}
      style={{ position: "absolute", left: 0, top: 0, width: 3762, height: 2151, background: "#fff" }}
    />
  );
}
